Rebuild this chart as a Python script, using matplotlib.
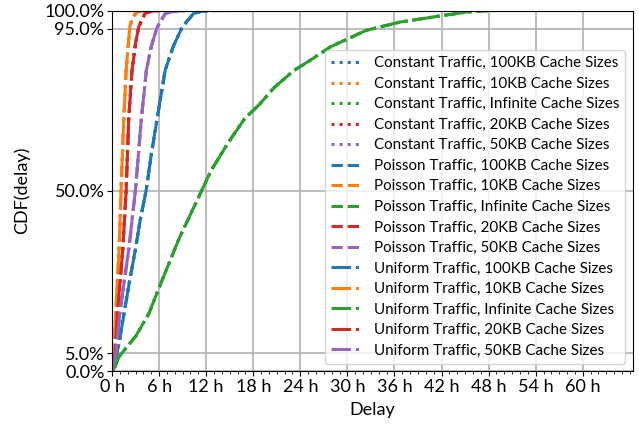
import matplotlib
matplotlib.use("Agg")
import matplotlib.pyplot as plt
from matplotlib.ticker import MultipleLocator, FuncFormatter

plt.rcParams['font.family'] = ['Lato', 'DejaVu Sans']
plt.rcParams['font.size'] = 13

traffic_types = ["Constant", "Poisson", "Uniform"]
traffic_styles = {"Constant": ":", "Poisson": "--", "Uniform": "-."}
cache_sizes = ["100KB", "10KB", "Infinite", "20KB", "50KB"]
cache_colors = {"100KB": "#1f77b4", "10KB": "#ff7f0e", "Infinite": "#2ca02c",
                "20KB": "#d62728", "50KB": "#9467bd"}

# delay (hours) and CDF values
delay_100kb = [0, 0.3, 0.64, 1.0, 1.53, 2.2, 2.98, 3.6, 4.34, 5.0, 5.75, 6.77, 7.8, 8.94, 10.4, 11.5, 13.0, 15.0]
cdf_100kb   = [0, 0.025, 0.05, 0.09, 0.16, 0.245, 0.337, 0.42, 0.50, 0.60, 0.70, 0.834, 0.90, 0.954, 0.992, 0.998, 1.0, 1.0]

delay_10kb = [0, 0.12, 0.25, 0.47, 0.9, 1.15, 1.5, 1.8, 2.26, 2.6, 3.0, 3.5, 4.0, 5.0]
cdf_10kb   = [0, 0.025, 0.05, 0.16, 0.337, 0.50, 0.70, 0.834, 0.954, 0.98, 0.992, 0.998, 1.0, 1.0]

delay_20kb = [0, 0.2, 0.4, 0.68, 1.37, 1.8, 2.13, 2.55, 3.0, 3.4, 4.2, 5.0, 6.0, 7.0]
cdf_20kb   = [0, 0.025, 0.05, 0.16, 0.337, 0.50, 0.70, 0.834, 0.91, 0.954, 0.992, 0.998, 1.0, 1.0]

delay_50kb = [0, 0.25, 0.5, 0.98, 1.5, 2.13, 2.98, 3.74, 4.38, 5.0, 5.75, 6.8, 8.0, 9.5, 11.0]
cdf_50kb   = [0, 0.025, 0.05, 0.16, 0.24, 0.337, 0.50, 0.70, 0.834, 0.90, 0.954, 0.992, 0.998, 1.0, 1.0]

delay_inf = [0, 0.38, 0.9, 1.75, 3.0, 4.7, 6.4, 8.6, 10.7, 12.6, 14.7, 16.9, 18.8, 20.7, 23.2,
             24.9, 27.9, 32.4, 36.7, 40.9, 45.2, 48.1, 49.0]
cdf_inf   = [0, 0.012, 0.04, 0.063, 0.096, 0.16, 0.253, 0.37, 0.467, 0.555, 0.63, 0.70, 0.74,
             0.787, 0.834, 0.857, 0.90, 0.945, 0.968, 0.982, 0.996, 1.0, 1.0]

data = {"100KB": (delay_100kb, cdf_100kb), "10KB": (delay_10kb, cdf_10kb),
        "Infinite": (delay_inf, cdf_inf), "20KB": (delay_20kb, cdf_20kb),
        "50KB": (delay_50kb, cdf_50kb)}

yticks = [0.0, 0.05, 0.5, 0.95, 1.0]
xticks_hours = [0, 6, 12, 18, 24, 30, 36, 42, 48, 54, 60]

fig = plt.figure(figsize=(6.39, 4.30), dpi=100)
ax = fig.add_axes([0.1753, 0.137, 0.8153, 0.8385])

for t in traffic_types:
    for c in cache_sizes:
        x, y = data[c]
        ax.plot(x, y, linestyle=traffic_styles[t], color=cache_colors[c], lw=2.2,
                label=f"{t} Traffic, {c} Cache Sizes")

ax.set_xlim(0, 66.4)
ax.set_ylim(0, 1.0)
ax.set_xticks(xticks_hours)
ax.set_xticklabels([f"{h} h" for h in xticks_hours])
ax.xaxis.set_minor_locator(MultipleLocator(1))
ax.set_yticks(yticks)
ax.yaxis.set_major_formatter(FuncFormatter(lambda v, p: f"{v*100:.1f}%"))
ax.tick_params(axis='both', which='major', labelsize=13, pad=2)
ax.grid(True, which='major', color='#b0b0b0', lw=1.2)
ax.set_axisbelow(True)
ax.set_xlabel("Delay", fontsize=13, labelpad=5)
ax.set_ylabel("CDF(delay)", fontsize=13, labelpad=10)
ax.legend(loc='lower right', fontsize=10.9, labelspacing=0.43)

fig.savefig("out.png", dpi=100)
